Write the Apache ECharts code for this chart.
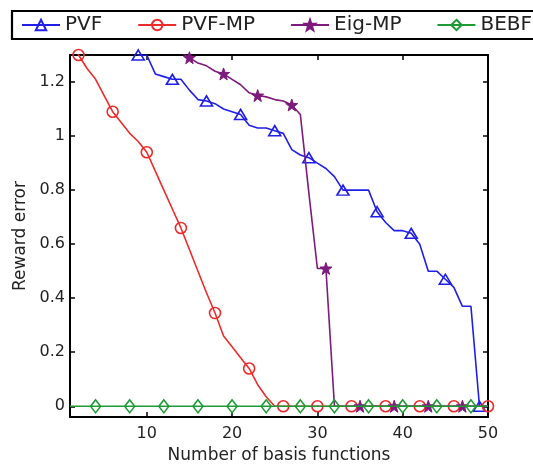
<!DOCTYPE html>
<html>
<head>
<meta charset="utf-8">
<script src="https://cdn.jsdelivr.net/npm/echarts@6/dist/echarts.min.js"></script>
<style>
html,body{margin:0;padding:0;background:#fff;}
#chart{width:533px;height:469px;}
</style>
</head>
<body>
<div id="chart"></div>
<script>
// Number of basis functions
var basisCounts = [1,2,3,4,5,6,7,8,9,10,11,12,13,14,15,16,17,18,19,20,21,22,23,24,25,26,27,28,29,30,31,32,33,34,35,36,37,38,39,40,41,42,43,44,45,46,47,48,49,50];
// Reward error per method (values above 1.3 fall outside the visible axis range)
var pvf = [1.42,1.40,1.38,1.36,1.35,1.34,1.33,1.32,1.30,1.30,1.23,1.22,1.21,1.21,1.17,1.135,1.13,1.12,1.10,1.09,1.08,1.04,1.03,1.03,1.02,1.01,0.95,0.93,0.92,0.90,0.88,0.85,0.80,0.80,0.80,0.80,0.72,0.68,0.65,0.65,0.64,0.60,0.50,0.50,0.47,0.44,0.37,0.37,0,0];
var pvfMp = [1.36,1.30,1.25,1.21,1.15,1.09,1.05,1.01,0.98,0.94,0.87,0.80,0.73,0.66,0.58,0.50,0.42,0.345,0.26,0.22,0.18,0.14,0.08,0.035,0,0,0,0,0,0,0,0,0,0,0,0,0,0,0,0,0,0,0,0,0,0,0,0,0,0];
var eigMp = [1.50,1.48,1.46,1.44,1.42,1.41,1.40,1.39,1.38,1.36,1.35,1.34,1.33,1.31,1.29,1.27,1.26,1.24,1.23,1.21,1.19,1.16,1.15,1.145,1.135,1.13,1.115,1.08,0.79,0.51,0.51,0,0,0,0,0,0,0,0,0,0,0,0,0,0,0,0,0,0,0];
var bebf = [0,0,0,0,0,0,0,0,0,0,0,0,0,0,0,0,0,0,0,0,0,0,0,0,0,0,0,0,0,0,0,0,0,0,0,0,0,0,0,0,0,0,0,0,0,0,0,0,0,0];
var seriesNames = ['PVF','PVF-MP','Eig-MP','BEBF'];
var xTicks = [10,20,30,40,50];
var yTicks = [0,0.2,0.4,0.6,0.8,1,1.2];

var FONT = 'DejaVu Sans';
var STAR = 'path://M0,-10 L2.35,-3.24 L9.51,-3.09 L3.8,1.24 L5.88,8.09 L0,4 L-5.88,8.09 L-3.8,1.24 L-9.51,-3.09 L-2.35,-3.24 Z';

function pts(vals, offset) {
  return basisCounts.map(function (x, i) {
    var item = { value: [x, vals[i]] };
    if (i % 4 !== offset) item.symbol = 'none';
    return item;
  });
}

function mk(name, vals, offset, color, symbol, size, filled, z) {
  return {
    name: name,
    type: 'line',
    data: pts(vals, offset),
    symbol: symbol,
    symbolSize: size,
    showAllSymbol: true,
    clip: true,
    z: z,
    lineStyle: { color: color, width: 1.6 },
    itemStyle: filled ? { color: color, borderColor: color, borderWidth: 1 }
                      : { color: 'rgba(255,255,255,0)', borderColor: color, borderWidth: 1.6 },
    emphasis: { disabled: true },
    animation: false
  };
}

var axisCommon = {
  axisLine: { show: true, onZero: false, lineStyle: { color: '#000', width: 2 } },
  axisTick: { show: true, inside: true, length: 5, lineStyle: { color: '#000', width: 1.5 } },
  splitLine: { show: false }
};

var chart = echarts.init(document.getElementById('chart'), null, { renderer: 'canvas' });
chart.setOption({
  backgroundColor: '#fff',
  animation: false,
  graphic: [{
    type: 'rect', z: 0,
    shape: { x: 12, y: 11, width: 540, height: 28 },
    style: { fill: 'none', stroke: '#000', lineWidth: 2.2 }
  }],
  legend: {
    data: seriesNames,
    left: 21, top: 15, width: 700, padding: 0,
    itemWidth: 38, itemHeight: 13, itemGap: 35,
    textStyle: { fontFamily: FONT, fontSize: 20, color: '#222' }
  },
  grid: { left: 70, right: 45, top: 55, bottom: 46, containLabel: false },
  xAxis: [
    Object.assign({}, axisCommon, {
      type: 'value', position: 'bottom', min: 1, max: 50,
      name: 'Number of basis functions', nameLocation: 'middle', nameGap: 29,
      nameTextStyle: { fontFamily: FONT, fontSize: 17, color: '#222' },
      axisTick: Object.assign({}, axisCommon.axisTick, { customValues: xTicks }),
      axisLabel: { customValues: xTicks, margin: 9, fontFamily: FONT, fontSize: 16, color: '#222' }
    }),
    Object.assign({}, axisCommon, {
      type: 'value', position: 'top', min: 1, max: 50,
      axisTick: Object.assign({}, axisCommon.axisTick, { customValues: xTicks }),
      axisLabel: { show: false }
    })
  ],
  yAxis: [
    Object.assign({}, axisCommon, {
      type: 'value', position: 'left', min: -0.04, max: 1.3,
      name: 'Reward error', nameLocation: 'middle', nameGap: 41,
      nameTextStyle: { fontFamily: FONT, fontSize: 17, color: '#222' },
      axisTick: Object.assign({}, axisCommon.axisTick, { customValues: yTicks }),
      axisLabel: { customValues: yTicks, margin: 5, fontFamily: FONT, fontSize: 16, color: '#222' }
    }),
    Object.assign({}, axisCommon, {
      type: 'value', position: 'right', min: -0.04, max: 1.3,
      axisTick: Object.assign({}, axisCommon.axisTick, { customValues: yTicks }),
      axisLabel: { show: false }
    })
  ],
  series: [
    mk('PVF', pvf, 0, '#1f1fe6', 'triangle', [12, 10], false, 2),
    mk('PVF-MP', pvfMp, 1, '#ee2b2b', 'circle', 11, false, 3),
    mk('Eig-MP', eigMp, 2, '#7d1a7d', STAR, 12, true, 4),
    mk('BEBF', bebf, 3, '#1e9a35', 'diamond', [10, 13], false, 5)
  ]
});
</script>
</body>
</html>
